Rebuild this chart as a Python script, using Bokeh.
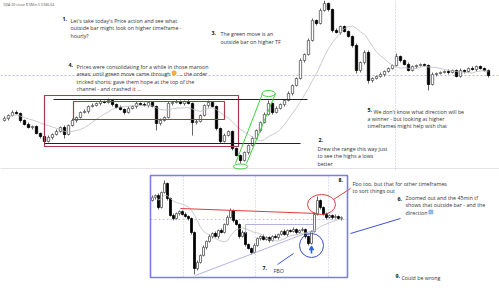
import numpy as np
from bokeh.plotting import figure
from bokeh.models import Range1d, Label
from bokeh.embed import file_html
from bokeh.resources import INLINE

# ---------------- data: main 5-min chart (price units) ----------------
main_first_open = 80
main_close = [
    82, 85, 88, 87, 80, 76, 73, 74, 67, 64,
    59, 63, 66, 69, 73, 66, 75, 80, 83, 88,
    89, 94, 95, 97, 99, 98, 100, 96, 93, 91,
    88, 92, 94, 97, 96, 95, 98, 94, 77, 80,
    83, 97, 98, 99, 97, 99, 97, 78, 79, 85,
    95, 98, 94, 72, 59, 65, 69, 52, 45, 40,
    48, 55, 62, 70, 78, 86, 97, 88, 92, 96,
    100, 107, 115, 122, 140, 146, 160, 180, 177, 190,
    197, 191, 170, 168, 174, 169, 164, 155, 130, 138,
    148, 120, 122, 124, 126, 129, 132, 135, 144, 140,
    136, 130, 134, 135, 136, 135, 116, 126, 127, 128,
    129, 128, 130, 124, 130, 129, 132, 131, 134, 132,
    130, 125]
main_wick_up = [
    2, 1, 2, 2, 1, 1, 2, 1, 1, 1,
    1, 2, 1, 2, 1, 2, 1, 2, 1, 1,
    2, 1, 2, 1, 2, 1, 2, 1, 1, 2,
    1, 2, 1, 2, 1, 2, 1, 1, 1, 2,
    1, 2, 1, 2, 1, 1, 2, 1, 2, 1,
    1, 2, 1, 1, 1, 2, 1, 1, 1, 1,
    1, 1, 2, 1, 1, 2, 3, 1, 2, 1,
    1, 2, 1, 1, 2, 1, 2, 2, 1, 2,
    3, 1, 1, 2, 1, 1, 1, 1, 2, 1,
    2, 2, 1, 1, 2, 1, 1, 1, 3, 1,
    1, 2, 1, 1, 1, 1, 1, 2, 1, 1,
    1, 2, 1, 1, 2, 1, 1, 2, 1, 1,
    1, 1]
main_wick_dn = [
    1, 2, 1, 1, 2, 1, 1, 2, 1, 2,
    2, 1, 2, 1, 1, 4, 1, 1, 2, 1,
    1, 2, 1, 1, 2, 1, 1, 2, 1, 1,
    2, 1, 1, 2, 1, 1, 2, 1, 7, 2,
    1, 1, 2, 1, 1, 2, 1, 13, 2, 1,
    1, 2, 1, 2, 2, 1, 1, 2, 1, 3,
    1, 2, 1, 1, 2, 1, 1, 2, 1, 1,
    2, 1, 2, 1, 1, 2, 1, 1, 2, 1,
    1, 2, 2, 1, 2, 1, 1, 2, 3, 2,
    2, 3, 2, 1, 1, 2, 1, 1, 1, 2,
    1, 1, 1, 2, 1, 1, 6, 1, 2, 1,
    1, 2, 1, 1, 1, 2, 1, 1, 2, 1,
    1, 2]

# ---------------- data: zoomed-in inset chart ----------------
inset_first_open = 100
inset_close = [
    103, 105, 93, 108, 117, 102, 85, 82, 87, 89,
    86, 84, 82, 68, 32, 38, 45, 53, 59, 64,
    67, 64, 70, 68, 76, 83, 90, 80, 76, 64,
    68, 56, 52, 48, 55, 62, 64, 61, 63, 60,
    64, 63, 66, 69, 66, 70, 69, 71, 68, 70,
    71, 64, 57, 69, 86, 100, 93, 86, 83, 85,
    83, 84, 82, 83]
inset_wick_up = [
    2, 1, 2, 1, 3, 1, 1, 2, 1, 1,
    1, 2, 1, 1, 1, 2, 1, 2, 1, 2,
    1, 2, 1, 2, 1, 2, 2, 1, 1, 1,
    2, 1, 1, 1, 2, 1, 1, 2, 1, 1,
    1, 2, 1, 1, 2, 1, 1, 2, 1, 1,
    2, 1, 1, 1, 2, 4, 1, 1, 2, 1,
    1, 2, 1, 1]
inset_wick_dn = [
    1, 2, 2, 1, 1, 2, 1, 2, 1, 2,
    1, 1, 2, 2, 6, 2, 1, 1, 2, 1,
    2, 1, 2, 1, 1, 1, 1, 2, 1, 2,
    1, 2, 1, 2, 1, 1, 2, 1, 1, 2,
    1, 1, 2, 1, 1, 2, 1, 1, 2, 1,
    1, 2, 2, 1, 1, 1, 2, 1, 2, 1,
    2, 1, 1, 2]

MA_WINDOW = 12

# ---------------- texts ----------------
header = "DJIA 30 close 8 5Min 5  5946.64"
note1 = ["Let's take today's Price action and see what",
         "outside bar might look on higher timeframe -",
         "hourly?"]
note4 = ["Prices were consolidating for a while in those maroon",
         "areas; until green move came through",
         "tricked shorts; gave them hope at the top of the",
         "channel - and crashed it ..."]
note4_tail = "... the order"
note3 = ["The green move is an", "outside bar on higher TF"]
note5 = ["We don't know what direction will be",
         "a winner - but looking at higher",
         "timeframes might help with that"]
note2 = ["Drew the range this way just", "to see the highs a lows", "better"]
note8 = ["Fbo too, but that for other timeframes", "to sort things out"]
note6 = ["Zoomed out and the 45min tf", "shows that outside bar - and the", "direction"]
note9 = "Could be wrong"
note7 = "FBO"

W, H = 499, 291


def ohlc(close, first_open, wup, wdn):
    c = np.array(close, dtype=float)
    o = np.concatenate([[first_open], c[:-1]])
    hi = np.maximum(o, c) + np.array(wup, dtype=float)
    lo = np.minimum(o, c) - np.array(wdn, dtype=float)
    return o, c, hi, lo


def sma(c, n):
    return np.array([c[max(0, i - n + 1):i + 1].mean() for i in range(len(c))])


p = figure(width=W, height=H, x_range=Range1d(-1, 123.75), y_range=Range1d(-91, 200),
           output_backend="svg", toolbar_location=None, min_border=0,
           x_axis_location=None, y_axis_location=None, outline_line_color=None)
p.grid.visible = False
p.background_fill_color = "white"
p.extra_x_ranges = {"ix": Range1d(-152 / 3, (W - 152) / 3)}
p.extra_y_ranges = {"iy": Range1d(300 - H, 300)}
INS = dict(x_range_name="ix", y_range_name="iy")

LAV = "#a8a8ea"

# chart bottom faint line
p.segment(x0=[-1], y0=[32], x1=[123.75], y1=[32], line_color="#e4e4e4", line_width=1)
# lavender crosshair lines (main)
p.segment(x0=[-1], y0=[125], x1=[123.75], y1=[125], line_color=LAV, line_width=0.8, line_dash="2 2")
p.segment(x0=[97.75], y0=[200], x1=[97.75], y1=[30], line_color=LAV, line_width=0.8, line_dash="1 2")


def draw_candles(o, c, hi, lo, width, wick_col, rng):
    x = np.arange(len(c))
    p.segment(x0=x, y0=hi, x1=x, y1=lo, line_color=wick_col, line_width=1, **rng)
    up = c >= o
    dn = ~up
    p.vbar(x=x[up], top=c[up], bottom=o[up], width=width, fill_color="white",
           line_color="#555555", line_width=0.8, **rng)
    p.vbar(x=x[dn], top=o[dn], bottom=c[dn], width=width, fill_color="black",
           line_color="black", line_width=0.8, **rng)
    p.line(x=x, y=sma(c, MA_WINDOW), line_color="#bdbdbd", line_width=0.8, **rng)


# main chart
mo, mc, mh, ml = ohlc(main_close, main_first_open, main_wick_up, main_wick_dn)
draw_candles(mo, mc, mh, ml, 0.58, "#666666", {})

# maroon consolidation boxes
MAROON = "#a53a4a"
p.quad(left=[10, 17.25], right=[58.5, 55], bottom=[54, 81], top=[105, 99],
       fill_color=None, line_color=MAROON, line_width=1.2)
# range lines
p.segment(x0=[12.25, 10], y0=[101, 57], x1=[75.75, 74], y1=[101, 57], line_color="#222222", line_width=1.2)
# green channel
GREEN = "#3fd23f"
p.segment(x0=[57.75, 60.5], y0=[37, 37], x1=[64.5, 67.75], y1=[107, 107], line_color=GREEN, line_width=1)
p.ellipse(x=[59, 66], y=[34, 107], width=[3.6, 3.3], height=[5, 6], fill_color=None,
          line_color=GREEN, line_width=1)

# ---------------- inset ----------------
p.quad(left=[-0.67], right=[65], bottom=[23], top=[125], fill_color="white",
       line_color=None, **INS)
p.segment(x0=[10.33, 34.33, 58.67], y0=[124, 124, 124], x1=[10.33, 34.33, 58.67], y1=[24, 24, 24],
          line_color=LAV, line_width=0.7, line_dash="1 2", **INS)
p.segment(x0=[-0.67], y0=[81], x1=[65], y1=[81], line_color=LAV, line_width=0.7, line_dash="2 2", **INS)

io_, ic, ih, il = ohlc(inset_close, inset_first_open, inset_wick_up, inset_wick_dn)
draw_candles(io_, ic, ih, il, 0.65, "#666666", INS)

# lavender triangle lines
p.segment(x0=[14.33, 31, 31], y0=[25, 76, 76], x1=[54.33, 53.67, 31], y1=[71, 76, 67],
          line_color="#a9a9e0", line_width=0.9, **INS)
# red lines and circle
RED = "#e23b3b"
p.segment(x0=[9.33, 60.33], y0=[92, 101], x1=[55, 66], y1=[87, 112], line_color=RED, line_width=1, **INS)
p.ellipse(x=[56.33], y=[96], width=[9.33], height=[20], fill_color=None, line_color=RED,
          line_width=1, **INS)
# blue circle, arrow, pointers
BLUE = "#3d4fd6"
p.ellipse(x=[53], y=[55], width=[8], height=[24], fill_color=None, line_color=BLUE, line_width=1, **INS)
p.segment(x0=[53], y0=[47], x1=[53], y1=[51], line_color="#2a62d8", line_width=1.6, **INS)
p.scatter(x=[53], y=[52], marker="triangle", size=4.5, fill_color="#2a62d8", line_color="#2a62d8", **INS)
p.segment(x0=[41.67, 66], y0=[36, 67], x1=[47, 82.67], y1=[47, 82], line_color=BLUE, line_width=1, **INS)

# inset border
p.quad(left=[-0.67], right=[65], bottom=[23], top=[125], fill_color=None,
       line_color="#7b7be9", line_width=1.6, **INS)

# emoji stand-ins
p.scatter(x=[42.4], y=[127.5], marker="circle", size=4.5, fill_color="#f5b731", line_color="#d9901c",
          line_width=0.5)
p.scatter(x=[92.8], y=[88.5], marker="square", size=4, fill_color="#8fc3ef", line_color="#5a9ad8",
          line_width=0.5, **INS)

# ---------------- labels ----------------
FONT = "Open Sans"
FS = "5.3px"


def txt(x, y, s, bold=False, size=FS, color="#333333"):
    p.add_layout(Label(x=x, y=H - y, x_units="screen", y_units="screen", text=s,
                       text_font=FONT, text_font_size=size, text_baseline="top",
                       text_color=color, text_font_style="bold" if bold else "normal"))


txt(3, 1.5, header, size="3.6px", color="#555555")

txt(62, 16.5, "1.", bold=True, color="#111111")
for k, s in enumerate(note1):
    txt(70, 16 + 7.7 * k, s)

txt(68, 62.5, "4.", bold=True, color="#111111")
for k, s in enumerate(note4):
    txt(76, 62 + 7.5 * k, s)
txt(178, 69.5, note4_tail)

txt(211, 30.5, "3.", bold=True, color="#111111")
for k, s in enumerate(note3):
    txt(220, 29 + 8 * k, s)

txt(367, 107, "5.", bold=True, color="#111111")
for k, s in enumerate(note5):
    txt(373 if k == 0 else 367, 107 + 7.3 * k, s)

txt(318, 137, "2.", bold=True, color="#111111")
for k, s in enumerate(note2):
    txt(317, 144.5 + 7.3 * k, s)

txt(338, 177, "8.", bold=True, color="#111111")
for k, s in enumerate(note8):
    txt(352, 179 + 7.3 * k, s)

txt(397, 196, "6.", bold=True, color="#111111")
for k, s in enumerate(note6):
    txt(405, 193 + 7.5 * k, s)

txt(395, 273, "9.", bold=True, color="#111111")
txt(401, 273, note9)

txt(262, 265, "7.", bold=True, color="#111111")
txt(273, 266, note7)

open("out.html", "w").write(file_html(p, INLINE))
